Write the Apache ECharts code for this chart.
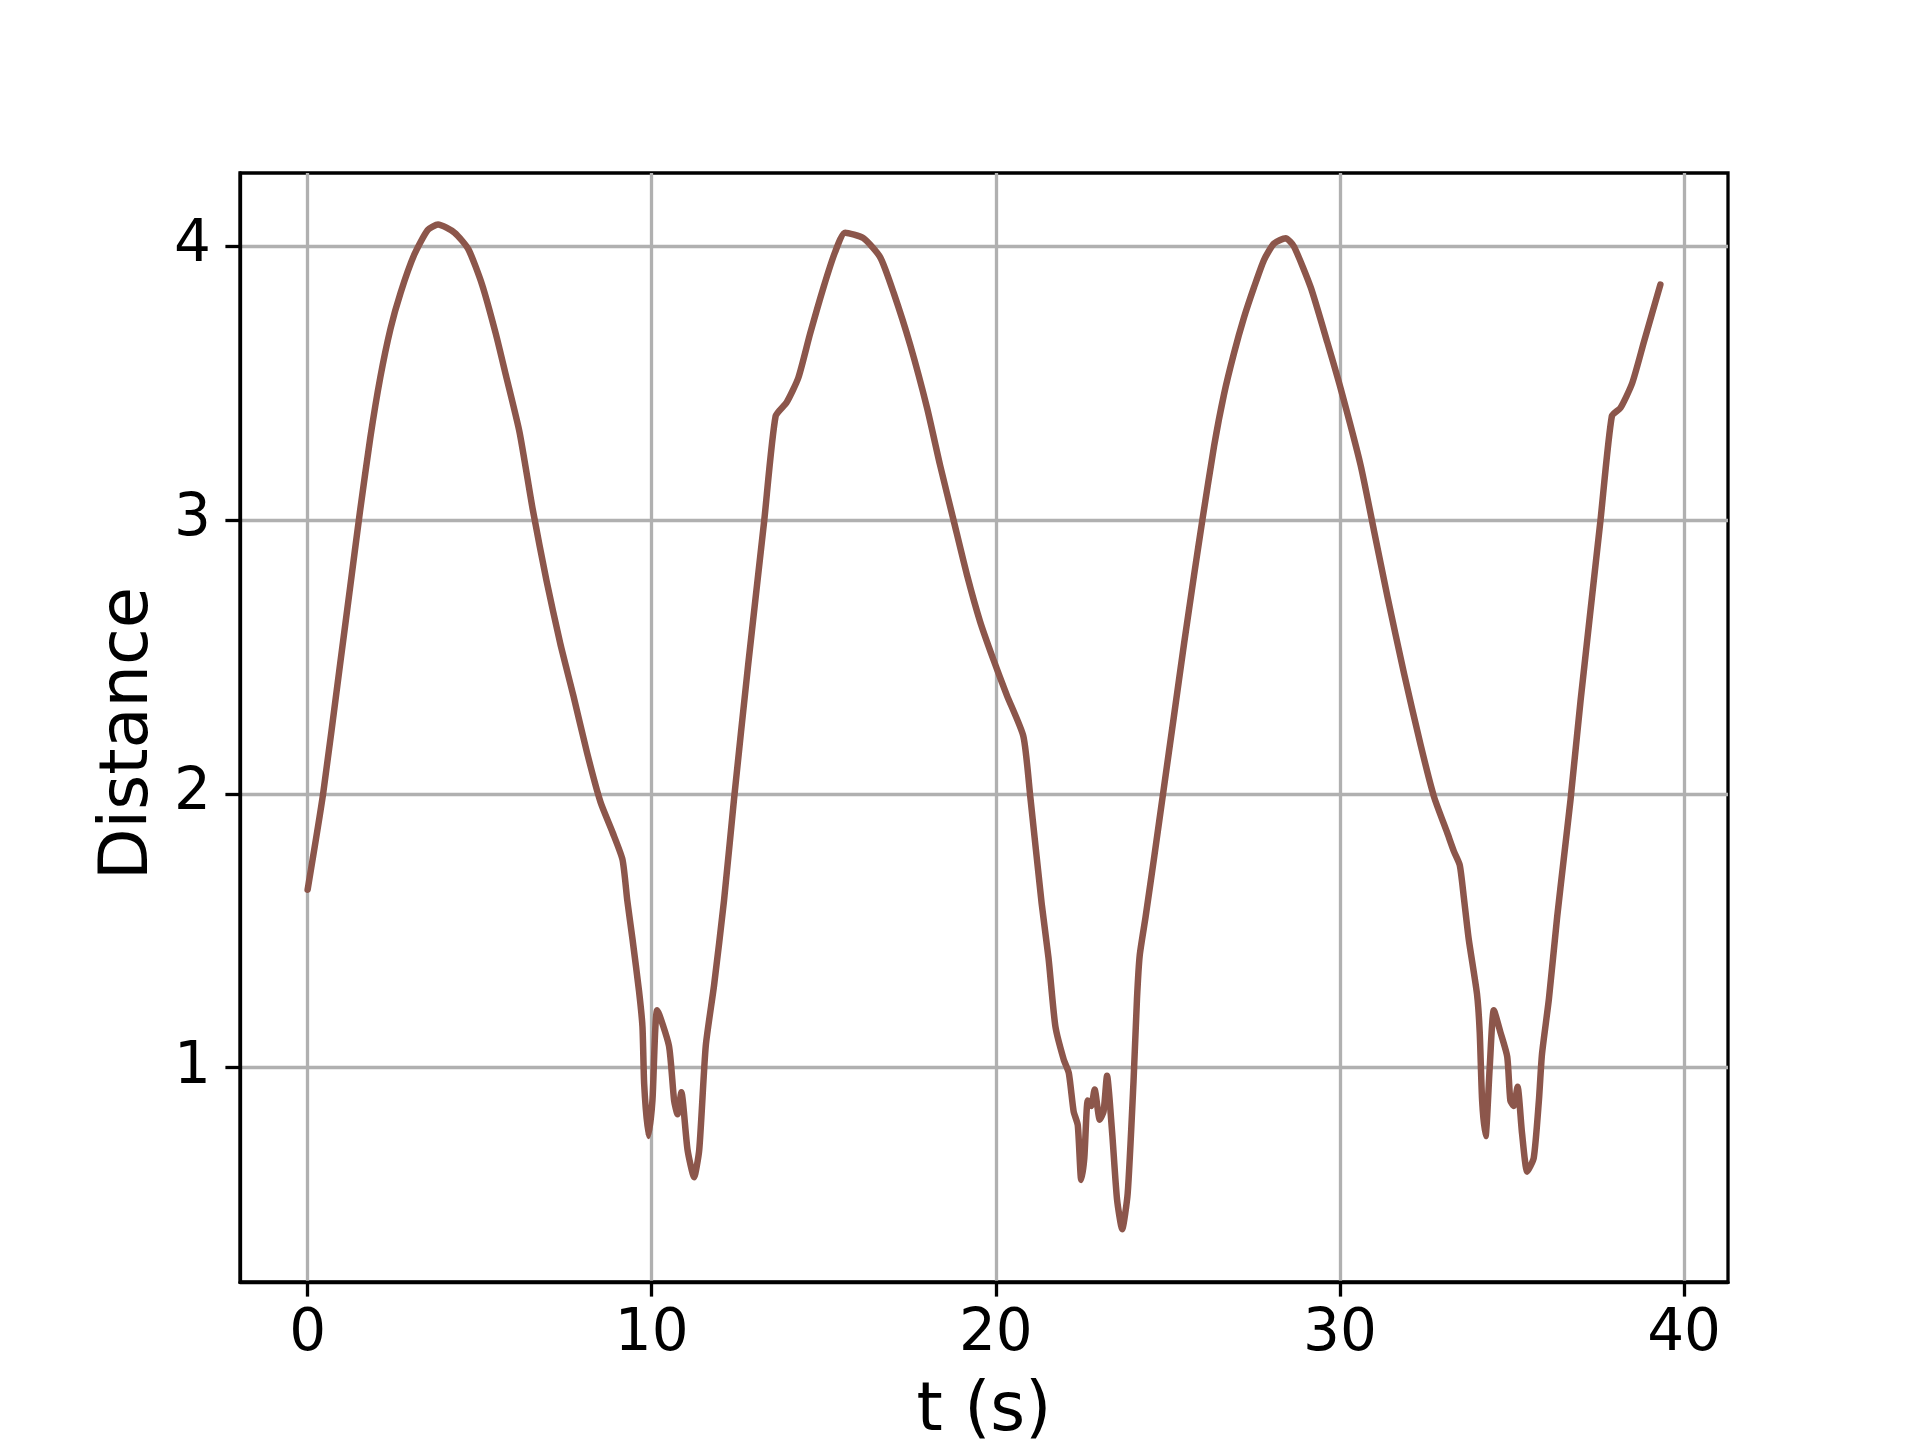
<!DOCTYPE html>
<html>
<head>
<meta charset="utf-8">
<script src="https://cdn.jsdelivr.net/npm/echarts@6/dist/echarts.min.js"></script>
<style>
    html, body { margin: 0; padding: 0; background: #fff; }
    #container { width: 1920px; height: 1440px; }
</style>
</head>
<body>
<div id="container"></div>
<script>
// time (s) and distance
var t_values = [
    0.00, 0.45, 0.93, 1.23, 1.52, 1.82, 2.11, 2.41, 2.70, 3.10,
    3.49, 3.79, 4.27, 4.67, 5.07, 5.47, 5.76, 6.16, 6.54, 6.94,
    7.34, 7.72, 8.12, 8.51, 8.86, 9.15, 9.29, 9.44, 9.63, 9.73,
    9.78, 9.90, 10.02, 10.16, 10.50, 10.65, 10.75, 10.86, 11.04, 11.23,
    11.38, 11.57, 11.81, 12.10, 12.39, 12.80, 13.27, 13.60, 13.92, 14.26,
    14.60, 14.99, 15.33, 15.62, 16.15, 16.64, 17.03, 17.51, 18.00, 18.38,
    18.77, 19.16, 19.54, 19.93, 20.32, 20.80, 21.00, 21.33, 21.53, 21.73,
    21.97, 22.12, 22.26, 22.38, 22.48, 22.57, 22.67, 22.77, 22.87, 23.02,
    23.13, 23.23, 23.38, 23.52, 23.67, 23.83, 24.00, 24.10, 24.18, 24.35,
    24.59, 24.88, 25.17, 25.47, 25.76, 26.00, 26.34, 26.63, 26.92, 27.21,
    27.50, 27.79, 28.08, 28.42, 28.66, 29.15, 29.63, 30.02, 30.60, 30.99,
    31.38, 31.86, 32.34, 32.73, 33.11, 33.31, 33.48, 33.60, 33.74, 33.98,
    34.06, 34.13, 34.23, 34.35, 34.47, 34.66, 34.86, 34.95, 35.05, 35.16,
    35.29, 35.44, 35.63, 35.78, 35.87, 36.07, 36.31, 36.50, 36.70, 36.99,
    37.57, 37.90, 38.15, 38.49, 38.83, 39.31
];
var distance_values = [
    1.65, 2.00, 2.46, 2.75, 3.03, 3.30, 3.52, 3.70, 3.83, 3.97,
    4.06, 4.08, 4.05, 3.99, 3.86, 3.68, 3.53, 3.32, 3.04, 2.78,
    2.55, 2.36, 2.15, 1.97, 1.86, 1.76, 1.61, 1.47, 1.28, 1.15,
    0.94, 0.75, 0.88, 1.21, 1.08, 0.88, 0.83, 0.91, 0.70, 0.60,
    0.70, 1.08, 1.30, 1.61, 1.98, 2.47, 3.00, 3.38, 3.43, 3.52,
    3.68, 3.85, 3.98, 4.05, 4.03, 3.96, 3.83, 3.64, 3.41, 3.20,
    3.00, 2.80, 2.63, 2.49, 2.36, 2.21, 1.99, 1.60, 1.40, 1.15,
    1.03, 0.98, 0.84, 0.79, 0.59, 0.67, 0.88, 0.86, 0.92, 0.81,
    0.84, 0.97, 0.76, 0.52, 0.41, 0.54, 0.95, 1.25, 1.41, 1.55,
    1.76, 2.02, 2.28, 2.55, 2.80, 3.00, 3.27, 3.46, 3.61, 3.74,
    3.85, 3.95, 4.01, 4.03, 4.00, 3.85, 3.65, 3.48, 3.20, 2.96,
    2.72, 2.44, 2.18, 1.99, 1.86, 1.79, 1.74, 1.62, 1.47, 1.27,
    1.13, 0.88, 0.75, 1.00, 1.21, 1.13, 1.04, 0.88, 0.86, 0.93,
    0.76, 0.62, 0.67, 0.88, 1.05, 1.25, 1.55, 1.76, 1.98, 2.34,
    3.00, 3.38, 3.41, 3.50, 3.65, 3.86
];
var x_ticks = [0, 10, 20, 30, 40];
var y_ticks = [1, 2, 3, 4];

var line_data = [];
for (var i = 0; i < t_values.length; i++) {
    line_data.push([t_values[i], distance_values[i]]);
}

var dom = document.getElementById("container");
var myChart = echarts.init(dom);
var font = 'DejaVu Sans';
var option = {
    animation: false,
    backgroundColor: '#fff',
    grid: {
        left: 240,
        right: 192,
        top: 173,
        bottom: 158,
        outerBoundsMode: 'none',
        containLabel: false,
        show: true,
        borderColor: '#000',
        borderWidth: 3.3,
        backgroundColor: 'transparent'
    },
    xAxis: {
        type: 'value',
        min: -1.965,
        max: 41.275,
        name: 't (s)',
        nameLocation: 'middle',
        nameGap: 97,
        nameTextStyle: {fontFamily: font, fontSize: 67, color: '#000'},
        axisLine: {show: true, onZero: false, lineStyle: {color: '#000', width: 3.3}},
        axisTick: {show: true, customValues: x_ticks, length: 14.6, lineStyle: {color: '#000', width: 3.3}},
        axisLabel: {customValues: x_ticks, margin: 24, fontFamily: font, fontSize: 58, color: '#000'},
        splitLine: {show: true, lineStyle: {color: '#b0b0b0', width: 3.3}}
    },
    yAxis: {
        type: 'value',
        min: 0.217,
        max: 4.268,
        name: 'Distance',
        nameLocation: 'middle',
        nameGap: 71,
        nameTextStyle: {fontFamily: font, fontSize: 67, color: '#000', padding: [0, 12, 0, 0]},
        axisLine: {show: true, onZero: false, lineStyle: {color: '#000', width: 3.3}},
        axisTick: {show: true, customValues: y_ticks, length: 14.6, lineStyle: {color: '#000', width: 3.3}},
        axisLabel: {customValues: y_ticks, margin: 29, fontFamily: font, fontSize: 58, color: '#000'},
        splitLine: {show: true, lineStyle: {color: '#b0b0b0', width: 3.3}}
    },
    series: [
        {
            name: 'Distance',
            type: 'line',
            data: line_data,
            showSymbol: false,
            smooth: 0.2,
            lineStyle: {color: '#8c564b', width: 6.5, cap: 'round', join: 'round'}
        }
    ]
};
myChart.setOption(option, true);
</script>
</body>
</html>
